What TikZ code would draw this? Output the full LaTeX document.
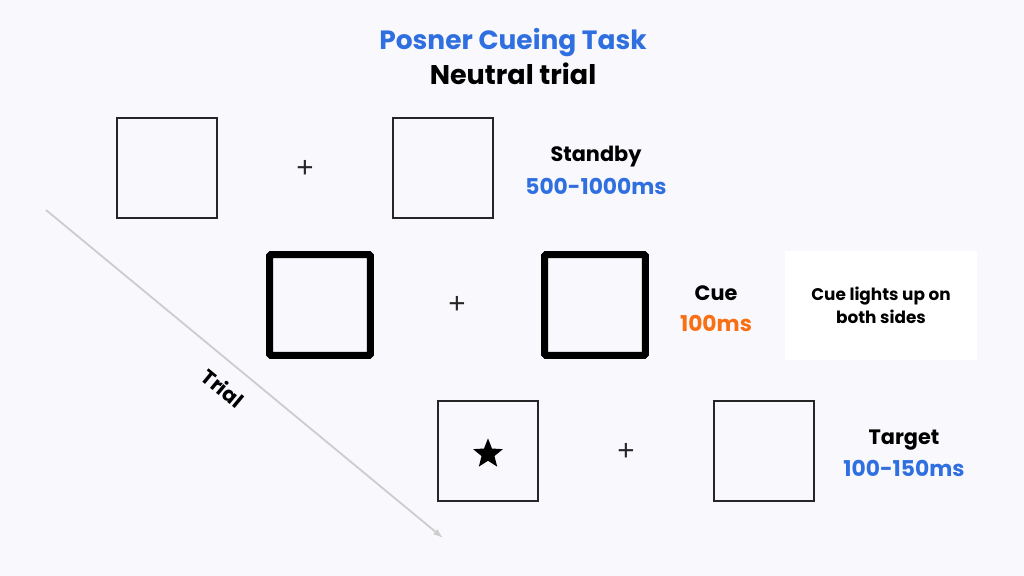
\documentclass[tikz,border=0pt]{standalone}
\usepackage{fontspec}
\setmainfont{Poppins}
\newfontfamily\plusfont{Liberation Sans}
\usepackage{tikz}
\usetikzlibrary{positioning, arrows.meta, shapes.geometric}

\definecolor{bgcol}{RGB}{249,249,253}
\definecolor{titleblue}{RGB}{47,111,224}
\definecolor{cueorange}{RGB}{250,110,20}
\definecolor{arrowgray}{RGB}{205,205,205}

\tikzset{
	stim/.style={draw=black!85, line width=1.3pt, minimum size=2.5cm, inner sep=0pt},
	cuebox/.style={draw=black, line width=5pt, rounded corners=1pt, minimum size=2.52cm, inner sep=0pt},
	fix/.style={font=\plusfont\fontsize{21}{21}\selectfont, text=black!85, inner sep=0pt},
	phase/.style={font=\bfseries\fontsize{14.8}{14.8}\selectfont, align=center, inner sep=0pt},
	dur/.style={font=\bfseries\fontsize{15.5}{15.5}\selectfont, inner sep=0pt},
}

\begin{document}
\begin{tikzpicture}[x=0.025cm, y=-0.025cm]
		\fill[bgcol] (0,0) rectangle (1024,576);
		\useasboundingbox (0,0) rectangle (1024,576);
		
		% title
		\node[font=\bfseries\fontsize{18.8}{18.8}\selectfont, text=titleblue] (title) at (513,43) {Posner Cueing Task};
		\node[font=\bfseries\fontsize{19.2}{19.2}\selectfont] (subtitle) at (513,74) {Neutral trial};
		
		% standby
		\node[stim] (s1l) at (167,168) {};
		\node[fix] (s1f) at (305,169) {+};
		\node[stim] (s1r) at (443,168) {};
		\node[phase] (s1p) at (596,157) {Standby};
		\node[dur, text=titleblue] (s1d) at (596,186) {500-1000ms};
		
		% cue
		\node[cuebox] (s2l) at (320,305) {};
		\node[fix] (s2f) at (457,305) {+};
		\node[cuebox] (s2r) at (595,305) {};
		\node[phase] (s2p) at (716,293) {Cue};
		\node[dur, text=cueorange] (s2d) at (716,323) {100ms};
		\node[fill=white, minimum width=4.8cm, minimum height=2.72cm, align=center,
			font=\bfseries\fontsize{12}{16.3}\selectfont] (note) at (881,305.5) {Cue lights up on\\both sides};
		
		% target
		\node[stim] (s3l) at (488,451) {};
		\node[star, star points=5, star point ratio=2.3, fill=black, minimum size=0.78cm, inner sep=0pt] (tgt) at (488,454) {};
		\node[fix] (s3f) at (626,452) {+};
		\node[stim] (s3r) at (764,451) {};
		\node[phase] (s3p) at (904,440) {Target};
		\node[dur, text=titleblue] (s3d) at (904,468) {100-150ms};
		
		% time axis
		\coordinate (tstart) at (46,210);
		\coordinate (tend) at (443,538);
		\draw[arrowgray, line width=1.3pt, -{Latex[length=7pt, width=5pt]}] (tstart) -- (tend);
		\node[font=\bfseries\fontsize{14.5}{14.5}\selectfont, rotate=-39.6] (trial) at (223,388) {Trial};
	\end{tikzpicture}
\end{document}
